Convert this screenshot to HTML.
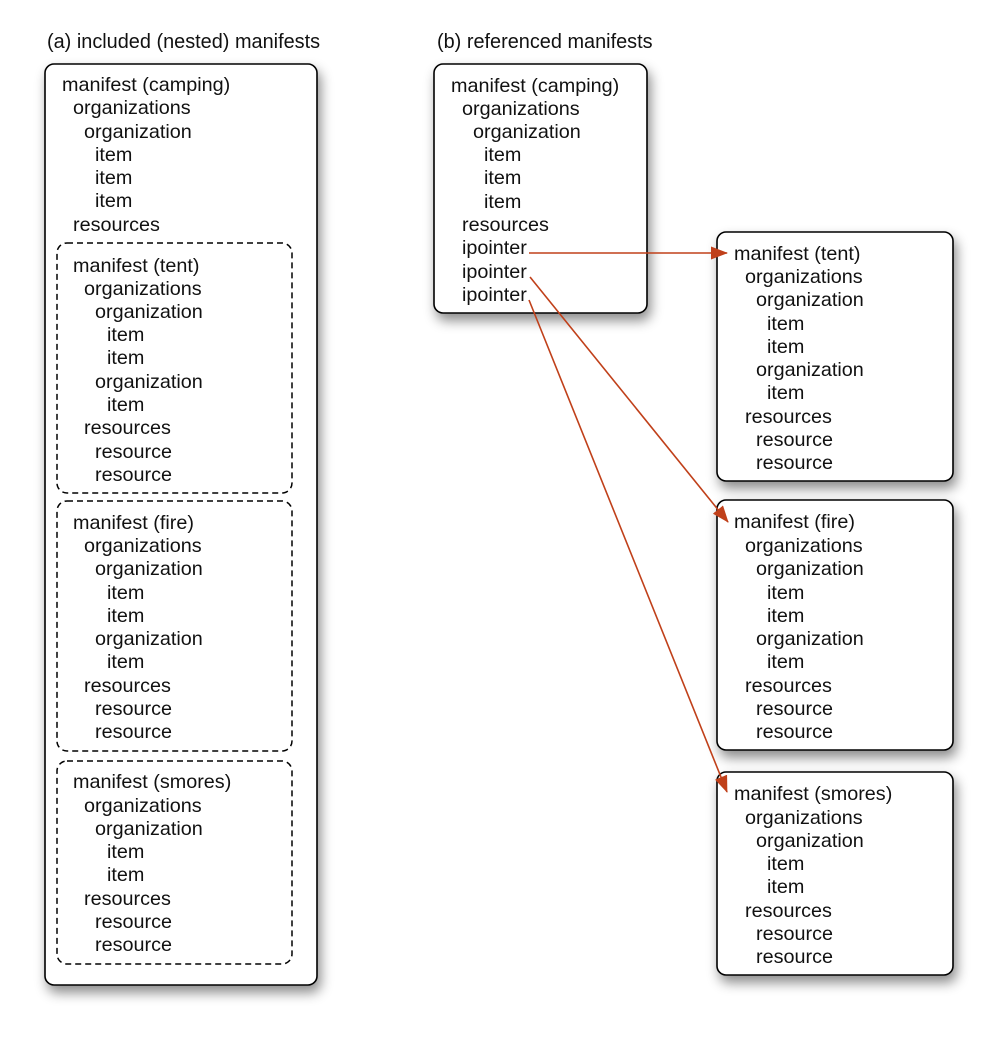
<!DOCTYPE html>
<html><head><meta charset="utf-8"><style>
html,body{margin:0;padding:0;background:#fff;}
svg{display:block;}
text{font-family:"Liberation Sans",Arial,sans-serif;font-size:19.8px;fill:#111;}
text.t{font-size:19.9px;}
</style></head><body>
<svg width="1000" height="1038" viewBox="0 0 1000 1038" xmlns="http://www.w3.org/2000/svg">
<defs>
<filter id="sh" x="-20%" y="-20%" width="140%" height="140%">
<feDropShadow dx="3" dy="7" stdDeviation="6" flood-color="#000" flood-opacity="0.45"/>
</filter>
<marker id="ah" markerWidth="17" markerHeight="13" refX="16" refY="6.5" orient="auto" markerUnits="userSpaceOnUse">
<path d="M0,0 L17,6.5 L0,13 Z" fill="#c0401a"/>
</marker>
</defs>

<text class="t" x="47" y="48">(a) included (nested) manifests</text>
<text class="t" x="437" y="48">(b) referenced manifests</text>

<!-- boxes -->
<g fill="#fff" stroke="#000" stroke-width="1.6">
<rect x="45" y="64" width="272" height="921" rx="9" filter="url(#sh)"/>
<rect x="434" y="64" width="213" height="249" rx="9" filter="url(#sh)"/>
<rect x="717" y="232" width="236" height="249" rx="9" filter="url(#sh)"/>
<rect x="717" y="500" width="236" height="250" rx="9" filter="url(#sh)"/>
<rect x="717" y="772" width="236" height="203" rx="9" filter="url(#sh)"/>
</g>
<g fill="none" stroke="#000" stroke-width="1.5" stroke-dasharray="6,4">
<rect x="57" y="243" width="235" height="250" rx="10"/>
<rect x="57" y="501" width="235" height="250" rx="10"/>
<rect x="57" y="761" width="235" height="203" rx="10"/>
</g>

<!-- left text -->
<g>
<text x="62" y="91">manifest (camping)</text>
<text x="73" y="114">organizations</text>
<text x="84" y="138">organization</text>
<text x="95" y="161">item</text>
<text x="95" y="184">item</text>
<text x="95" y="207">item</text>
<text x="73" y="231">resources</text>

<text x="73" y="272">manifest (tent)</text>
<text x="84" y="295">organizations</text>
<text x="95" y="318">organization</text>
<text x="107" y="341">item</text>
<text x="107" y="364">item</text>
<text x="95" y="388">organization</text>
<text x="107" y="411">item</text>
<text x="84" y="434">resources</text>
<text x="95" y="458">resource</text>
<text x="95" y="481">resource</text>

<text x="73" y="529">manifest (fire)</text>
<text x="84" y="552">organizations</text>
<text x="95" y="575">organization</text>
<text x="107" y="599">item</text>
<text x="107" y="622">item</text>
<text x="95" y="645">organization</text>
<text x="107" y="668">item</text>
<text x="84" y="692">resources</text>
<text x="95" y="715">resource</text>
<text x="95" y="738">resource</text>

<text x="73" y="788">manifest (smores)</text>
<text x="84" y="812">organizations</text>
<text x="95" y="835">organization</text>
<text x="107" y="858">item</text>
<text x="107" y="881">item</text>
<text x="84" y="905">resources</text>
<text x="95" y="928">resource</text>
<text x="95" y="951">resource</text>
</g>

<!-- right text -->
<g>
<text x="451" y="92">manifest (camping)</text>
<text x="462" y="115">organizations</text>
<text x="473" y="138">organization</text>
<text x="484" y="161">item</text>
<text x="484" y="184">item</text>
<text x="484" y="208">item</text>
<text x="462" y="231">resources</text>
<text x="462" y="254">ipointer</text>
<text x="462" y="278">ipointer</text>
<text x="462" y="301">ipointer</text>

<text x="734" y="260">manifest (tent)</text>
<text x="745" y="283">organizations</text>
<text x="756" y="306">organization</text>
<text x="767" y="330">item</text>
<text x="767" y="353">item</text>
<text x="756" y="376">organization</text>
<text x="767" y="399">item</text>
<text x="745" y="423">resources</text>
<text x="756" y="446">resource</text>
<text x="756" y="469">resource</text>

<text x="734" y="528">manifest (fire)</text>
<text x="745" y="552">organizations</text>
<text x="756" y="575">organization</text>
<text x="767" y="599">item</text>
<text x="767" y="622">item</text>
<text x="756" y="645">organization</text>
<text x="767" y="668">item</text>
<text x="745" y="692">resources</text>
<text x="756" y="715">resource</text>
<text x="756" y="738">resource</text>

<text x="734" y="800">manifest (smores)</text>
<text x="745" y="824">organizations</text>
<text x="756" y="847">organization</text>
<text x="767" y="870">item</text>
<text x="767" y="893">item</text>
<text x="745" y="917">resources</text>
<text x="756" y="940">resource</text>
<text x="756" y="963">resource</text>
</g>

<!-- arrows -->
<g stroke="#c0401a" stroke-width="1.6" fill="none">
<line x1="529" y1="253" x2="727" y2="253" marker-end="url(#ah)"/>
<line x1="530" y1="277" x2="728" y2="522" marker-end="url(#ah)"/>
<line x1="529" y1="300" x2="727" y2="792" marker-end="url(#ah)"/>
</g>
</svg>
</body></html>
